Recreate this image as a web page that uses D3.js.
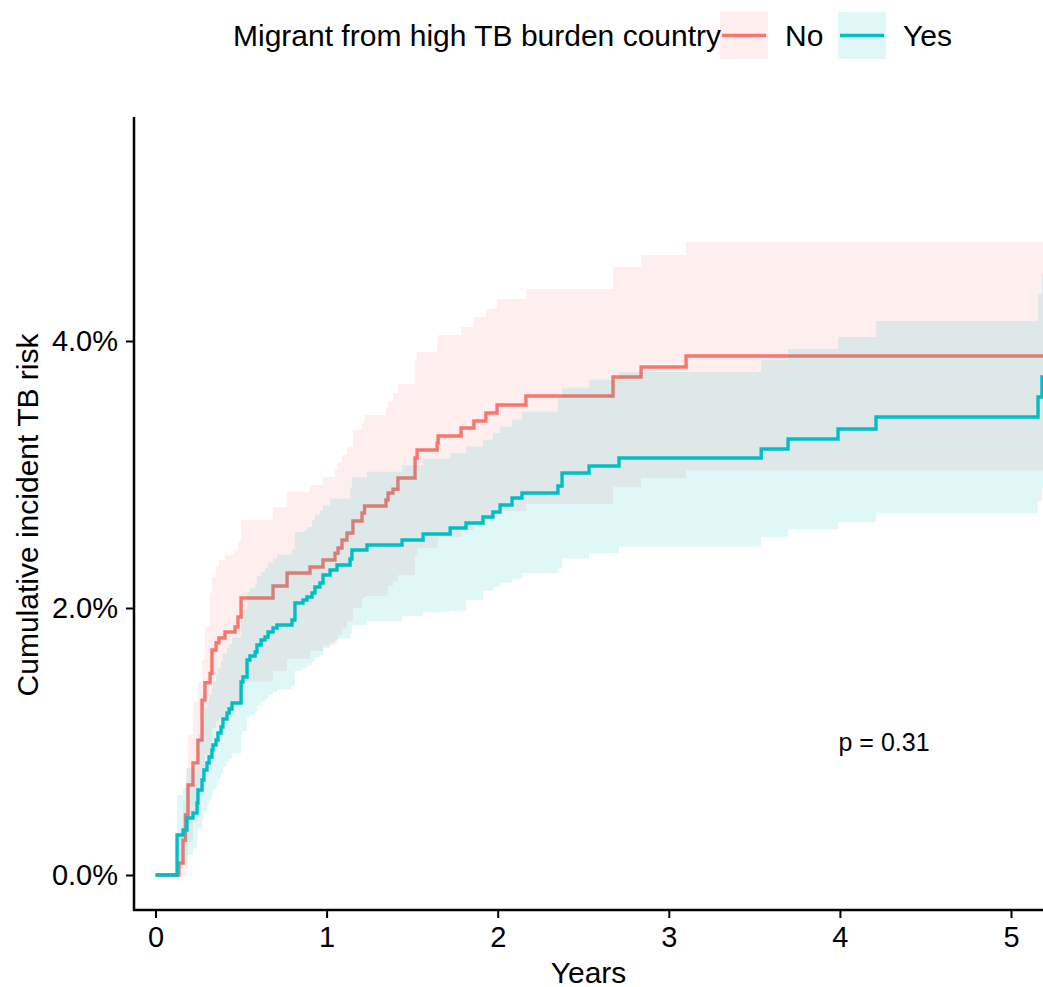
<!DOCTYPE html>
<html>
<head>
<meta charset="utf-8">
<script src="https://cdn.jsdelivr.net/npm/d3@7"></script>
<style>
  body { margin: 0; background: #fff; }
  svg text { font-family: "Liberation Sans", Arial, sans-serif; fill: #000; }
</style>
</head>
<body>
<div id="fig"></div>
<script>
// group "No" (not a migrant from high TB burden country)
var noTime  = [0, 0.137, 0.161, 0.175, 0.19, 0.219, 0.248, 0.272, 0.289, 0.319, 0.33, 0.354, 0.371, 0.406, 0.465, 0.482, 0.5, 0.687, 0.769, 0.903, 0.979, 1.049, 1.067, 1.09, 1.119, 1.154, 1.207, 1.222, 1.347, 1.359, 1.388, 1.417, 1.517, 1.529, 1.646, 1.652, 1.786, 1.861, 1.931, 1.996, 2.165, 2.674, 2.838, 3.101, 5.3];
var noEst   = [0, 0.09, 0.26, 0.45, 0.674, 0.84, 1.01, 1.31, 1.44, 1.51, 1.685, 1.74, 1.775, 1.82, 1.858, 1.933, 2.075, 2.165, 2.262, 2.307, 2.36, 2.41, 2.449, 2.509, 2.562, 2.652, 2.712, 2.764, 2.809, 2.861, 2.89, 2.974, 3.124, 3.184, 3.236, 3.288, 3.348, 3.401, 3.461, 3.521, 3.588, 3.73, 3.805, 3.888, 3.888];
var noUpper = [0, 0.3, 0.55, 0.8, 1.05, 1.3, 1.45, 1.61, 1.86, 2.11, 2.23, 2.31, 2.36, 2.4, 2.43, 2.5, 2.66, 2.757, 2.869, 2.921, 2.981, 3.034, 3.086, 3.146, 3.206, 3.333, 3.386, 3.446, 3.498, 3.551, 3.61, 3.678, 3.858, 3.918, 3.985, 4.045, 4.105, 4.18, 4.24, 4.315, 4.39, 4.554, 4.644, 4.742, 4.742];
var noLower = [0, 0, 0, 0.05, 0.25, 0.4, 0.55, 0.8, 0.9, 0.95, 1.1, 1.15, 1.18, 1.22, 1.25, 1.3, 1.45, 1.53, 1.62, 1.68, 1.72, 1.76, 1.8, 1.85, 1.9, 2.0, 2.075, 2.09, 2.1, 2.165, 2.2, 2.247, 2.397, 2.45, 2.48, 2.532, 2.58, 2.637, 2.67, 2.727, 2.78, 2.906, 2.974, 3.03, 3.03];

// group "Yes" (migrant from high TB burden country)
var yesTime  = [0, 0.126, 0.161, 0.184, 0.219, 0.243, 0.248, 0.272, 0.283, 0.301, 0.313, 0.33, 0.336, 0.354, 0.365, 0.383, 0.394, 0.418, 0.43, 0.447, 0.5, 0.511, 0.535, 0.552, 0.582, 0.593, 0.617, 0.64, 0.658, 0.687, 0.71, 0.798, 0.815, 0.862, 0.885, 0.915, 0.932, 0.961, 0.979, 1.02, 1.061, 1.137, 1.148, 1.236, 1.441, 1.564, 1.722, 1.815, 1.914, 1.972, 2.014, 2.084, 2.142, 2.352, 2.376, 2.534, 2.709, 3.54, 3.697, 3.989, 4.211, 5.158, 5.181, 5.3];
var yesEst   = [0, 0.30, 0.337, 0.427, 0.464, 0.539, 0.637, 0.712, 0.787, 0.839, 0.884, 0.936, 0.974, 1.011, 1.064, 1.109, 1.169, 1.213, 1.243, 1.288, 1.446, 1.483, 1.61, 1.64, 1.67, 1.723, 1.76, 1.783, 1.82, 1.85, 1.873, 1.91, 2.037, 2.06, 2.082, 2.112, 2.157, 2.187, 2.247, 2.285, 2.322, 2.367, 2.434, 2.472, 2.509, 2.554, 2.599, 2.637, 2.682, 2.719, 2.772, 2.824, 2.861, 2.914, 3.011, 3.064, 3.124, 3.191, 3.266, 3.341, 3.431, 3.581, 3.73, 3.73];
var yesUpper = [0, 0.6, 0.65, 0.8, 0.85, 0.95, 1.05, 1.15, 1.25, 1.3, 1.35, 1.4, 1.45, 1.5, 1.55, 1.6, 1.66, 1.7, 1.73, 1.78, 1.95, 1.99, 2.12, 2.15, 2.18, 2.24, 2.27, 2.3, 2.34, 2.37, 2.4, 2.44, 2.57, 2.58, 2.607, 2.66, 2.7, 2.73, 2.77, 2.82, 2.82, 2.9, 2.98, 3.02, 3.07, 3.12, 3.16, 3.21, 3.26, 3.31, 3.36, 3.41, 3.47, 3.57, 3.65, 3.71, 3.768, 3.858, 3.94, 4.03, 4.15, 4.352, 4.5, 4.5];
var yesLower = [0, 0.05, 0.08, 0.15, 0.2, 0.28, 0.35, 0.42, 0.48, 0.52, 0.56, 0.6, 0.64, 0.67, 0.72, 0.76, 0.81, 0.85, 0.87, 0.91, 1.05, 1.08, 1.18, 1.2, 1.23, 1.27, 1.3, 1.32, 1.35, 1.37, 1.39, 1.42, 1.53, 1.55, 1.57, 1.6, 1.63, 1.65, 1.7, 1.74, 1.77, 1.81, 1.87, 1.9, 1.94, 1.97, 1.98, 2.06, 2.13, 2.16, 2.19, 2.22, 2.26, 2.3, 2.37, 2.41, 2.46, 2.53, 2.59, 2.644, 2.71, 2.80, 2.9, 2.9];

var groups = ["No", "Yes"];
var colors = ["#F8766D", "#00BFC4"];
var xTicks = [0, 1, 2, 3, 4, 5];
var yTicks = [0, 2, 4];
var pLabel = "p = 0.31";

var W = 1043, H = 987;
var panel = {left: 134, right: 1043, top: 117, bottom: 910};

var svg = d3.select("#fig").append("svg")
    .attr("width", W)
    .attr("height", H);

var x = d3.scaleLinear().domain([0, 5]).range([155.5, 1011]);
var y = d3.scaleLinear().domain([0, 4]).range([875, 341]);

svg.append("clipPath").attr("id", "clip")
  .append("rect")
    .attr("x", panel.left).attr("y", panel.top)
    .attr("width", panel.right - panel.left)
    .attr("height", panel.bottom - panel.top);

var series = [
  {time: noTime, est: noEst, lo: noLower, hi: noUpper},
  {time: yesTime, est: yesEst, lo: yesLower, hi: yesUpper}
];

var plot = svg.append("g").attr("clip-path", "url(#clip)");

var area = d3.area()
    .curve(d3.curveStepAfter)
    .x(function(d) { return x(d.t); })
    .y0(function(d) { return y(d.lo); })
    .y1(function(d) { return y(d.hi); });

var line = d3.line()
    .curve(d3.curveStepAfter)
    .x(function(d) { return x(d.t); })
    .y(function(d) { return y(d.v); });

series.forEach(function(s, i) {
  var pts = s.time.map(function(t, k) {
    return {t: t, v: s.est[k], lo: s.lo[k], hi: s.hi[k]};
  });
  plot.append("path")
      .datum(pts)
      .attr("d", area)
      .attr("fill", colors[i])
      .attr("fill-opacity", 0.12)
      .attr("stroke", "none");
  plot.append("path")
      .datum(pts)
      .attr("d", line)
      .attr("fill", "none")
      .attr("stroke", colors[i])
      .attr("stroke-width", 3.4);
});

// axes
var xAxis = svg.append("g")
    .attr("transform", "translate(0," + panel.bottom + ")")
    .call(d3.axisBottom(x).tickValues(xTicks).tickFormat(d3.format("d"))
      .tickSize(8).tickSizeOuter(0).tickPadding(8));
var yAxis = svg.append("g")
    .attr("transform", "translate(" + panel.left + ",0)")
    .call(d3.axisLeft(y).tickValues(yTicks).tickFormat(function(d) { return d.toFixed(1) + "%"; })
      .tickSize(8).tickSizeOuter(0).tickPadding(8));

[xAxis, yAxis].forEach(function(a) {
  a.select(".domain").remove();
  a.selectAll(".tick line").attr("stroke", "#000").attr("stroke-width", 2);
  a.selectAll(".tick text").style("font-size", "29px").attr("fill", "#000");
});

svg.append("line")
    .attr("x1", panel.left - 1).attr("x2", panel.right)
    .attr("y1", panel.bottom).attr("y2", panel.bottom)
    .attr("stroke", "#000").attr("stroke-width", 2.5);
svg.append("line")
    .attr("x1", panel.left).attr("x2", panel.left)
    .attr("y1", panel.top).attr("y2", panel.bottom + 1)
    .attr("stroke", "#000").attr("stroke-width", 2.5);

// axis titles
svg.append("text")
    .attr("x", (panel.left + panel.right) / 2)
    .attr("y", 983)
    .attr("text-anchor", "middle")
    .style("font-size", "30px")
    .text("Years");
svg.append("text")
    .attr("transform", "translate(38," + 515 + ") rotate(-90)")
    .attr("text-anchor", "middle")
    .style("font-size", "30px")
    .text("Cumulative incident TB risk");

// p value
svg.append("text")
    .attr("x", x(4.258))
    .attr("y", 751)
    .attr("text-anchor", "middle")
    .style("font-size", "25px")
    .text(pLabel);

// legend
var legend = svg.append("g");
legend.append("text")
    .attr("x", 233).attr("y", 46)
    .style("font-size", "30px")
    .text("Migrant from high TB burden country");
var keyX = [720, 838];
groups.forEach(function(g, i) {
  var k = legend.append("g").attr("transform", "translate(" + keyX[i] + ",12)");
  k.append("rect")
      .attr("width", 48).attr("height", 47)
      .attr("fill", colors[i]).attr("fill-opacity", 0.12);
  k.append("line")
      .attr("x1", 2).attr("x2", 46)
      .attr("y1", 23.5).attr("y2", 23.5)
      .attr("stroke", colors[i]).attr("stroke-width", 3.4);
  k.append("text")
      .attr("x", 65).attr("y", 34)
      .style("font-size", "30px")
      .text(g);
});
</script>
</body>
</html>
